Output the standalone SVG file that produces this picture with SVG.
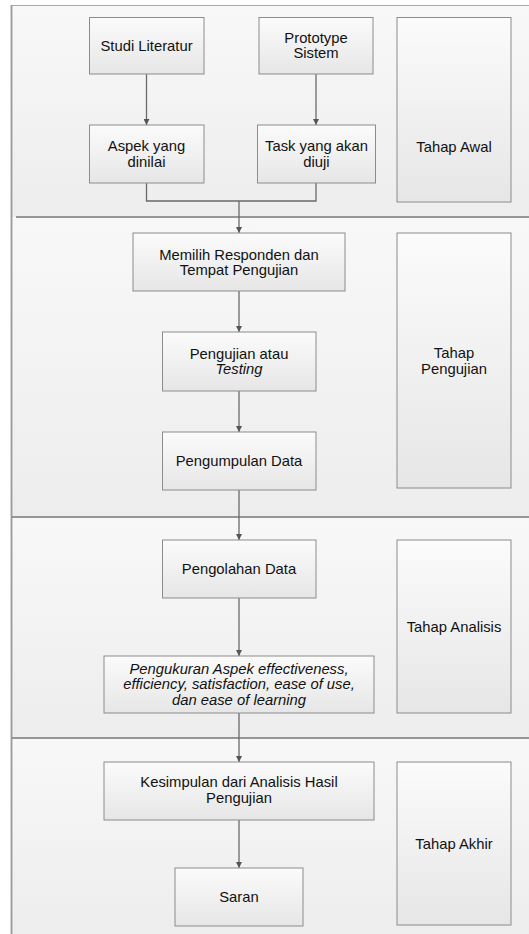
<svg xmlns="http://www.w3.org/2000/svg" width="529" height="934" viewBox="0 0 529 934">
<defs>
<linearGradient id="lane" x1="0" y1="0" x2="0" y2="1"><stop offset="0" stop-color="#f8f8f8"/><stop offset="1" stop-color="#ededed"/></linearGradient>
<linearGradient id="box" x1="0" y1="0" x2="0" y2="1"><stop offset="0" stop-color="#fbfbfb"/><stop offset="1" stop-color="#e6e6e6"/></linearGradient>
<marker id="arr" viewBox="0 0 10 10" refX="10" refY="5" markerWidth="6" markerHeight="6" orient="auto" markerUnits="userSpaceOnUse"><path d="M0,0 L10,5 L0,10 z" fill="#555"/></marker>
<style>
.bx{fill:url(#box);stroke:#8c8c8c;stroke-width:1}
.ln{fill:url(#lane);stroke:none}
.t{font-family:"Liberation Sans",Arial,sans-serif;font-size:14.8px;fill:#111;text-anchor:middle}
.i{font-style:italic}
.c{fill:none;stroke:#6a6a6a;stroke-width:1.3}
.sep{stroke:#777;stroke-width:1.5}
</style>
</defs>
<g id="lanes">
<rect class="ln" x="12" y="5.5" width="517" height="211.5"/>
<rect class="ln" x="12" y="217" width="517" height="300"/>
<rect class="ln" x="12" y="517" width="517" height="221"/>
<rect class="ln" x="12" y="738" width="517" height="196"/>
<line x1="11.5" y1="5.5" x2="529" y2="5.5" stroke="#aaa" stroke-width="1.2"/>
<line x1="11.5" y1="5" x2="11.5" y2="934" stroke="#999" stroke-width="1.8"/>
<line class="sep" x1="16" y1="217" x2="529" y2="217"/>
<line class="sep" x1="12" y1="517" x2="529" y2="517"/>
<line class="sep" x1="12" y1="738" x2="529" y2="738"/>
</g>
<g id="connectors">
<line class="c" x1="146.5" y1="74" x2="146.5" y2="125" marker-end="url(#arr)"/>
<line class="c" x1="316" y1="74" x2="316" y2="125" marker-end="url(#arr)"/>
<polyline class="c" points="146.5,183 146.5,201 316,201 316,183"/>
<line class="c" x1="239" y1="201" x2="239" y2="233" marker-end="url(#arr)"/>
<line class="c" x1="239" y1="291" x2="239" y2="332" marker-end="url(#arr)"/>
<line class="c" x1="239" y1="391" x2="239" y2="432" marker-end="url(#arr)"/>
<line class="c" x1="239" y1="490" x2="239" y2="540" marker-end="url(#arr)"/>
<line class="c" x1="239" y1="598" x2="239" y2="656" marker-end="url(#arr)"/>
<line class="c" x1="239" y1="713" x2="239" y2="762" marker-end="url(#arr)"/>
<line class="c" x1="239" y1="820" x2="239" y2="868" marker-end="url(#arr)"/>
</g>
<g id="studi"><rect class="bx" x="89.5" y="17.5" width="114.5" height="56.5"/><text class="t" x="146.5" y="50.5">Studi Literatur</text></g>
<g id="prototype"><rect class="bx" x="259" y="17.5" width="114" height="56.5"/><text class="t" x="316" y="42.5">Prototype</text><text class="t" x="316" y="58">Sistem</text></g>
<g id="aspek"><rect class="bx" x="89.5" y="125" width="114.5" height="58"/><text class="t" x="146.5" y="151">Aspek yang</text><text class="t" x="146.5" y="167">dinilai</text></g>
<g id="task"><rect class="bx" x="257.5" y="125" width="118" height="58"/><text class="t" x="316.5" y="151">Task yang akan</text><text class="t" x="316.5" y="167">diuji</text></g>
<g id="tahap-awal"><rect class="bx" x="397" y="17.5" width="114" height="184.5"/><text class="t" x="454" y="152">Tahap Awal</text></g>
<g id="memilih"><rect class="bx" x="133" y="233" width="212" height="58"/><text class="t" x="239" y="259.5">Memilih Responden dan</text><text class="t" x="239" y="275">Tempat Pengujian</text></g>
<g id="pengujian"><rect class="bx" x="162.5" y="332" width="153.5" height="59"/><text class="t" x="239" y="358.5">Pengujian atau</text><text class="t i" x="239" y="374">Testing</text></g>
<g id="pengumpulan"><rect class="bx" x="162.5" y="432" width="153.5" height="58"/><text class="t" x="239" y="465.5">Pengumpulan Data</text></g>
<g id="tahap-pengujian"><rect class="bx" x="397" y="233" width="114" height="255"/><text class="t" x="454" y="358">Tahap</text><text class="t" x="454" y="373.5">Pengujian</text></g>
<g id="pengolahan"><rect class="bx" x="162.5" y="540" width="153.5" height="58"/><text class="t" x="239" y="573.5">Pengolahan Data</text></g>
<g id="pengukuran"><rect class="bx" x="104" y="656" width="270" height="57"/><text class="t i" x="239" y="673.5">Pengukuran Aspek effectiveness,</text><text class="t i" x="239" y="689">efficiency, satisfaction, ease of use,</text><text class="t i" x="239" y="704.5">dan ease of learning</text></g>
<g id="tahap-analisis"><rect class="bx" x="397" y="540" width="114" height="173"/><text class="t" x="454" y="631.5">Tahap Analisis</text></g>
<g id="kesimpulan"><rect class="bx" x="104" y="762" width="270" height="58"/><text class="t" x="239" y="787">Kesimpulan dari Analisis Hasil</text><text class="t" x="239" y="802.5">Pengujian</text></g>
<g id="saran"><rect class="bx" x="175" y="868" width="128" height="58"/><text class="t" x="239" y="901.5">Saran</text></g>
<g id="tahap-akhir"><rect class="bx" x="397" y="762" width="114" height="163"/><text class="t" x="454" y="849">Tahap Akhir</text></g>
</svg>
